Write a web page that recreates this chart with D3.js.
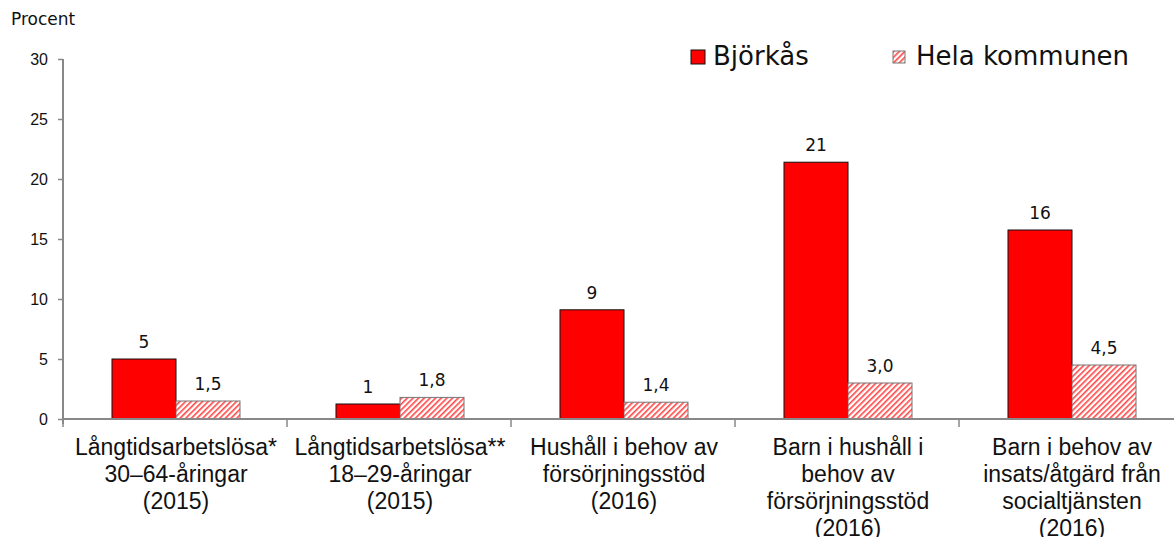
<!DOCTYPE html>
<html lang="sv">
<head>
  <meta charset="UTF-8">
  <title>Björkås jämfört med hela kommunen</title>
  <script src="https://cdn.jsdelivr.net/npm/d3@7"></script>
  <style>
    body { margin: 0; background: #fff; }
    .cat-label { font-family: "Liberation Sans", Arial, sans-serif; font-size: 23px; fill: #111; }
    .tick-label { font-family: "Liberation Sans", Arial, sans-serif; font-size: 16px; fill: #111; }
    .unit-label { font-family: "DejaVu Sans", Verdana, sans-serif; font-size: 17px; fill: #111; }
    .value-label { font-family: "DejaVu Sans", Verdana, sans-serif; font-size: 17px; fill: #111; }
    .legend-label { font-family: "DejaVu Sans", Verdana, sans-serif; font-size: 26px; fill: #111; }
  </style>
</head>
<body>
  <div id="chart"></div>

  <script>
    // Data
    const categories = [
      ['Långtidsarbetslösa*', '30–64-åringar', '(2015)'],
      ['Långtidsarbetslösa**', '18–29-åringar', '(2015)'],
      ['Hushåll i behov av', 'försörjningsstöd', '(2016)'],
      ['Barn i hushåll i', 'behov av', 'försörjningsstöd', '(2016)'],
      ['Barn i behov av', 'insats/åtgärd från', 'socialtjänsten', '(2016)']
    ];
    const seriesNames = ['Björkås', 'Hela kommunen'];
    const bjorkasValues = [5.0, 1.25, 9.1, 21.4, 15.75];
    const bjorkasLabels = ['5', '1', '9', '21', '16'];
    const kommunValues = [1.5, 1.8, 1.4, 3.0, 4.5];
    const kommunLabels = ['1,5', '1,8', '1,4', '3,0', '4,5'];
    const yTicks = [0, 5, 10, 15, 20, 25, 30];

    const width = 1174, height = 537;
    const margin = { top: 59, left: 63 };
    const plotW = 1120, plotH = 360;

    const svg = d3.select('#chart').append('svg')
      .attr('width', width)
      .attr('height', height);

    // Hatch pattern for "Hela kommunen"
    const pattern = svg.append('defs').append('pattern')
      .attr('id', 'hatch')
      .attr('patternUnits', 'userSpaceOnUse')
      .attr('width', 4)
      .attr('height', 4)
      .attr('patternTransform', 'rotate(45)');
    pattern.append('rect').attr('width', 4).attr('height', 4).attr('fill', '#fff');
    pattern.append('rect').attr('width', 1.6).attr('height', 4).attr('fill', '#f44');

    const g = svg.append('g').attr('transform', `translate(${margin.left},${margin.top})`);

    const x = d3.scaleBand()
      .domain(d3.range(categories.length))
      .range([0, plotW]);

    const xInner = d3.scaleBand()
      .domain([0, 1])
      .range([x.bandwidth() / 2 - 63, x.bandwidth() / 2 + 65]);

    const y = d3.scaleLinear().domain([0, 30]).range([plotH, 0]);

    // Y axis
    const yAxis = g.append('g')
      .call(d3.axisLeft(y).tickValues(yTicks).tickSize(5).tickFormat(d3.format('d')));
    yAxis.attr('font-size', null).attr('font-family', null);
    yAxis.select('.domain').attr('stroke', '#888').attr('stroke-width', 2).attr('d', `M0,0V${plotH + 5}`);
    yAxis.selectAll('.tick line').attr('stroke', '#888').attr('stroke-width', 1.5);
    yAxis.selectAll('.tick text')
      .attr('class', 'tick-label')
      .attr('x', -15);

    svg.append('text')
      .attr('class', 'unit-label')
      .attr('x', 11)
      .attr('y', 25)
      .text('Procent');

    // Bars
    const data = categories.map((c, i) => ({
      i,
      vals: [
        { s: 0, v: bjorkasValues[i], label: bjorkasLabels[i] },
        { s: 1, v: kommunValues[i], label: kommunLabels[i] }
      ]
    }));

    const groups = g.selectAll('.group')
      .data(data)
      .enter()
      .append('g')
        .attr('transform', d => `translate(${x(d.i)},0)`);

    groups.selectAll('rect')
      .data(d => d.vals)
      .enter()
      .append('rect')
        .attr('x', d => xInner(d.s))
        .attr('y', d => y(d.v))
        .attr('width', xInner.bandwidth())
        .attr('height', d => plotH - y(d.v))
        .attr('fill', d => d.s === 0 ? '#ff0000' : 'url(#hatch)')
        .attr('stroke', d => d.s === 0 ? '#111' : '#777')
        .attr('stroke-width', 1);

    groups.selectAll('.value-label')
      .data(d => d.vals)
      .enter()
      .append('text')
        .attr('class', 'value-label')
        .attr('x', d => xInner(d.s) + xInner.bandwidth() / 2)
        .attr('y', d => y(d.v) - 11)
        .attr('text-anchor', 'middle')
        .text(d => d.label);

    // X axis
    g.append('line')
      .attr('x1', 0).attr('x2', plotW)
      .attr('y1', plotH).attr('y2', plotH)
      .attr('stroke', '#888').attr('stroke-width', 2);

    g.selectAll('.sep')
      .data(d3.range(categories.length + 1))
      .enter()
      .append('line')
        .attr('x1', d => d * x.step()).attr('x2', d => d * x.step())
        .attr('y1', plotH).attr('y2', plotH + 8)
        .attr('stroke', '#888').attr('stroke-width', 1.5);

    // Category labels
    groups.append('text')
      .attr('class', 'cat-label')
      .attr('text-anchor', 'middle')
      .selectAll('tspan')
      .data(d => categories[d.i])
      .enter()
      .append('tspan')
        .attr('x', x.bandwidth() / 2 + 1)
        .attr('y', (d, j) => plotH + 36 + j * 27)
        .text(d => d);

    // Legend
    const legendX = [691, 893];
    const legendSize = [14, 12];
    const legend = svg.selectAll('.legend')
      .data(seriesNames)
      .enter()
      .append('g')
        .attr('transform', (d, i) => `translate(${legendX[i]},0)`);

    legend.append('rect')
      .attr('y', (d, i) => 57 - legendSize[i] / 2)
      .attr('width', (d, i) => legendSize[i])
      .attr('height', (d, i) => legendSize[i])
      .attr('fill', (d, i) => i === 0 ? '#ff0000' : 'url(#hatch)')
      .attr('stroke', (d, i) => i === 0 ? '#111' : '#777');

    legend.append('text')
      .attr('class', 'legend-label')
      .attr('x', (d, i) => i === 0 ? 22 : 23)
      .attr('y', 65)
      .text(d => d);
  </script>
</body>
</html>
